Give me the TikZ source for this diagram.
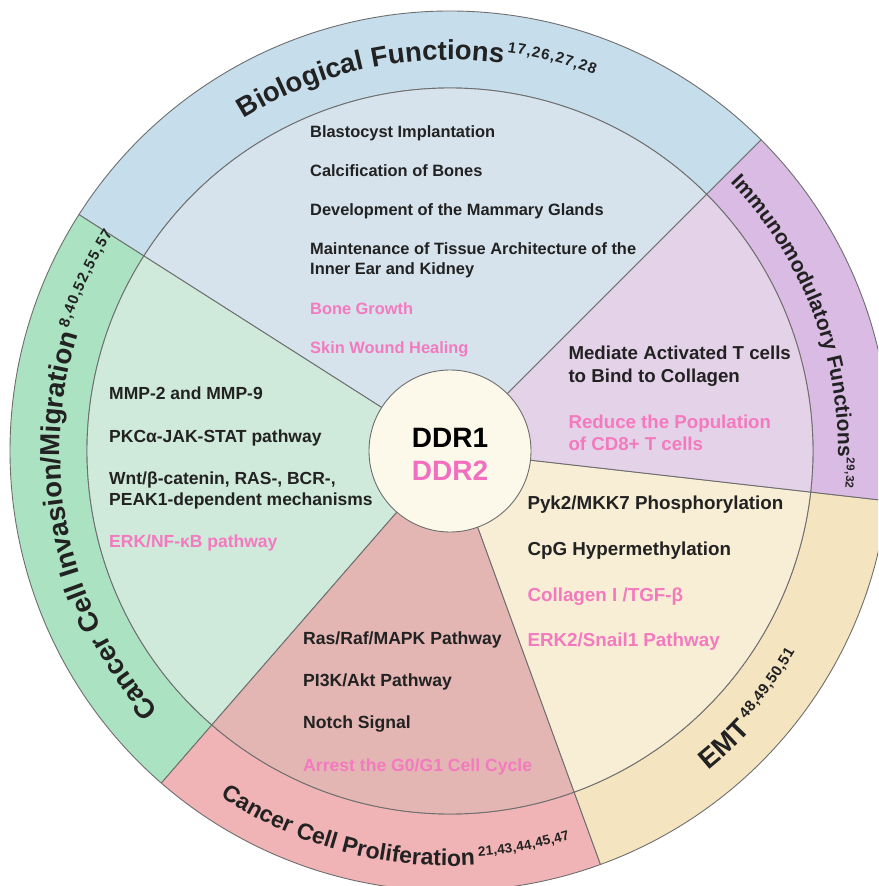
\documentclass[tikz,border=0pt]{standalone}
\usepackage{fontspec}
\setmainfont{Liberation Sans}
\usetikzlibrary{decorations.text}
\definecolor{ringBlue}{HTML}{C6DDEB}
\definecolor{inBlue}{HTML}{D6E3EC}
\definecolor{ringGreen}{HTML}{ABE2C1}
\definecolor{inGreen}{HTML}{CFEADB}
\definecolor{ringRed}{HTML}{F1B4B6}
\definecolor{inRed}{HTML}{E3B6B4}
\definecolor{ringYellow}{HTML}{F4E4C0}
\definecolor{inYellow}{HTML}{F7EED5}
\definecolor{ringPurple}{HTML}{D9BBE3}
\definecolor{inPurple}{HTML}{E4D2E8}
\definecolor{centerFill}{HTML}{FDF9EA}
\definecolor{edge}{HTML}{6E6E6E}
\definecolor{txt}{HTML}{222222}
\definecolor{pinkTxt}{HTML}{F47AC0}
\definecolor{ddrPink}{HTML}{F26EBE}
% title fonts
\newcommand\tfBig{\fontsize{27.5pt}{27.5pt}\selectfont\bfseries}
\newcommand\tfMid{\fontsize{23pt}{23pt}\selectfont\bfseries}
\newcommand\tfEmt{\fontsize{27.5pt}{27.5pt}\selectfont\bfseries}
\newcommand\tfSmall{\fontsize{21pt}{21pt}\selectfont\bfseries}
\newcommand\sfBig{\fontsize{15pt}{15pt}\selectfont\bfseries}
\newcommand\sfMid{\fontsize{13.5pt}{13.5pt}\selectfont\bfseries}
\newcommand\sfSmall{\fontsize{11.5pt}{11.5pt}\selectfont\bfseries}
\newcommand\ddrsector[4]{%
  \filldraw[ringpart, fill=#3] (#1:363pt) -- (#1:440pt) arc[start angle=#1, end angle=#2, radius=440pt] -- (#2:363pt) arc[start angle=#2, end angle=#1, radius=363pt] -- cycle;
  \filldraw[ringpart, fill=#4] (0,0) -- (#1:363pt) arc[start angle=#1, end angle=#2, radius=363pt] -- cycle;
}
\tikzset{
  ringpart/.style={draw=edge, line width=0.9pt, line join=round},
  itemtxt/.style={anchor=base west, inner sep=0pt, text=txt},
  pinktxt/.style={itemtxt, text=pinkTxt},
  fBlue/.style={font=\fontsize{16.4pt}{19pt}\selectfont\bfseries},
  fGreen/.style={font=\fontsize{17.5pt}{20pt}\selectfont\bfseries},
  fRed/.style={font=\fontsize{17.6pt}{20pt}\selectfont\bfseries},
  fYellow/.style={font=\fontsize{18.8pt}{21pt}\selectfont\bfseries},
  fPurple/.style={font=\fontsize{18.7pt}{21pt}\selectfont\bfseries},
  titlepath/.style={decorate, decoration={text along path, text color=txt, text align=left}},
  suppath/.style={decorate, decoration={text along path, text color=txt, text align=fit to path}}
}
\begin{document}
\begin{tikzpicture}[x=1pt, y=1pt]
\useasboundingbox (-450,-435) rectangle (428,451);
\begin{scope}
\clip (-450,-435) rectangle (428,451);
% sectors: ring + inner wedge
\ddrsector{45}{147.5}{ringBlue}{inBlue}
\ddrsector{147.5}{229}{ringGreen}{inGreen}
\ddrsector{229}{290}{ringRed}{inRed}
\ddrsector{290}{353.5}{ringYellow}{inYellow}
\ddrsector{353.5}{405}{ringPurple}{inPurple}
% titles on the ring (clockwise ones read outward, counter-clockwise ones inward)
\path[titlepath, decoration={text={|\tfBig|Biological Functions}}]
  (121.8:391pt) arc[start angle=121.8, end angle=40, radius=391pt];
\path[suppath, decoration={text={|\sfBig|17,26,27,28}}]
  (81.8:403pt) arc[start angle=81.8, end angle=69, radius=403pt];
\path[titlepath, decoration={text={|\tfBig|Cancer Cell Invasion/Migration}}]
  (221.7:390pt) arc[start angle=221.7, end angle=140, radius=390pt];
\path[suppath, decoration={text={|\sfBig|8,40,52,55,57}}]
  (162.2:401pt) arc[start angle=162.2, end angle=147.2, radius=401pt];
\path[titlepath, decoration={text={|\tfMid|Cancer Cell Proliferation}}]
  (236.4:415pt) arc[start angle=236.4, end angle=300, radius=415pt];
\path[suppath, decoration={text={|\sfMid|21,43,44,45,47}}]
  (274:406pt) arc[start angle=274, end angle=287.2, radius=406pt];
\path[titlepath, decoration={text={|\tfEmt|EMT}}]
  (-51:411pt) arc[start angle=-51, end angle=-20, radius=411pt];
\path[suppath, decoration={text={|\sfBig|48,49,50,51}}]
  (-42.2:399pt) arc[start angle=-42.2, end angle=-30.2, radius=399pt];
\path[titlepath, decoration={text={|\tfSmall|Immunomodulatory Functions}}]
  (43.8:388pt) arc[start angle=43.8, end angle=-10, radius=388pt];
\path[suppath, decoration={text={|\sfSmall|29,32}}]
  (-1:397pt) arc[start angle=-1, end angle=-5.4, radius=397pt];
\end{scope}
% centre
\node[circle, minimum size=162pt, inner sep=0pt, fill=centerFill, draw=edge, line width=0.9pt] (core) at (0,0) {};
\node[anchor=base, inner sep=0pt, font=\fontsize{28pt}{28pt}\selectfont\bfseries, text=black] (ddr1) at (0,3.7) {DDR1};
\node[anchor=base, inner sep=0pt, font=\fontsize{28pt}{28pt}\selectfont\bfseries, text=ddrPink] (ddr2) at (0,-29.7) {DDR2};
% biological functions
\node[itemtxt, fBlue] (bt1) at (-140,313.3) {Blastocyst Implantation};
\node[itemtxt, fBlue] (bt2) at (-140,274.3) {Calcification of Bones};
\node[itemtxt, fBlue] (bt3) at (-140,235) {Development of the Mammary Glands};
\node[itemtxt, fBlue] (bt4) at (-140,196) {Maintenance of Tissue Architecture of the};
\node[itemtxt, fBlue] (bt5) at (-140,176) {Inner Ear and Kidney};
\node[pinktxt, fBlue] (bt6) at (-140,136) {Bone Growth};
\node[pinktxt, fBlue] (bt7) at (-140,97.5) {Skin Wound Healing};
% invasion / migration
\node[itemtxt, fGreen] (gt1) at (-341,51) {MMP-2 and MMP-9};
\node[itemtxt, fGreen] (gt2) at (-341,8.3) {PKCα-JAK-STAT pathway};
\node[itemtxt, fGreen] (gt3) at (-341,-33.3) {Wnt/β-catenin, RAS-, BCR-,};
\node[itemtxt, fGreen] (gt4) at (-341,-54) {PEAK1-dependent mechanisms};
\node[pinktxt, fGreen] (gt5) at (-341,-96.3) {ERK/NF-κB pathway};
% immunomodulatory
\node[itemtxt, fPurple] (pt1) at (118.3,91) {Mediate Activated T cells};
\node[itemtxt, fPurple] (pt2) at (118.3,68.3) {to Bind to Collagen};
\node[pinktxt, fPurple] (pt3) at (118.3,22.7) {Reduce the Population};
\node[pinktxt, fPurple] (pt4) at (118.3,0) {of CD8+ T cells};
% EMT
\node[itemtxt, fYellow] (yt1) at (77.3,-58.3) {Pyk2/MKK7 Phosphorylation};
\node[itemtxt, fYellow] (yt2) at (77.3,-104) {CpG Hypermethylation};
\node[pinktxt, fYellow] (yt3) at (77.3,-150) {Collagen I /TGF-β};
\node[pinktxt, fYellow] (yt4) at (77.3,-195) {ERK2/Snail1 Pathway};
% proliferation
\node[itemtxt, fRed] (rt1) at (-147,-193.3) {Ras/Raf/MAPK Pathway};
\node[itemtxt, fRed] (rt2) at (-147,-235) {PI3K/Akt Pathway};
\node[itemtxt, fRed] (rt3) at (-147,-277.7) {Notch Signal};
\node[pinktxt, fRed] (rt4) at (-147,-320) {Arrest the G0/G1 Cell Cycle};
\end{tikzpicture}
\end{document}
